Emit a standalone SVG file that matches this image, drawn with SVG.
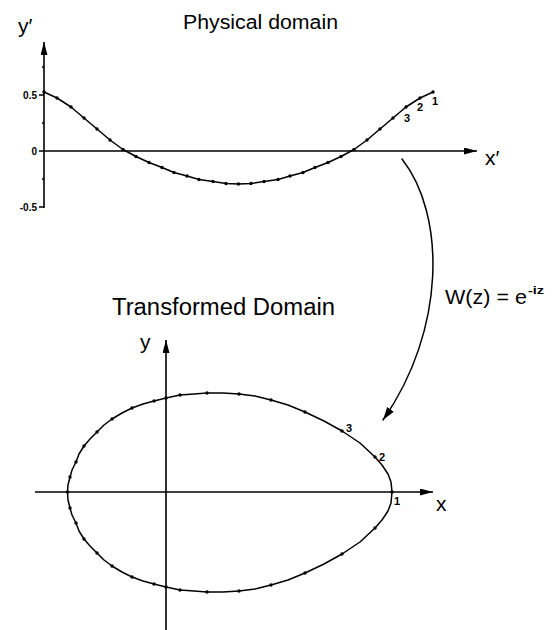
<svg xmlns="http://www.w3.org/2000/svg" width="552" height="630" viewBox="0 0 552 630">
<defs>
<style>
.ax{stroke:#000;stroke-width:1.6;fill:none}
.tk{stroke:#000;stroke-width:1.4;fill:none}
.cv{stroke:#000;stroke-width:1.5;fill:none;stroke-linejoin:round;stroke-linecap:round}
.dots{stroke:none;fill:none}
.t{font-family:"Liberation Sans",Arial,sans-serif;fill:#000}
.title{font-size:20px}
.num{font-size:10px;font-weight:bold}
.pt{font-size:11px;font-weight:bold}
.lab{font-size:21px}
</style>
<marker id="ah" markerUnits="userSpaceOnUse" markerWidth="14" markerHeight="8" refX="13" refY="3.5" orient="auto">
<path d="M0,0 L13,3.5 L0,7 Z" fill="#000"/>
</marker>
<marker id="ah2" markerUnits="userSpaceOnUse" markerWidth="14" markerHeight="10" refX="13" refY="4" orient="auto">
<path d="M0,0 L13,4 L0,8 Z" fill="#000"/>
</marker>
<marker id="dot" markerUnits="userSpaceOnUse" markerWidth="5" markerHeight="5" refX="2.5" refY="2.5">
<circle cx="2.5" cy="2.5" r="1.7" fill="#000"/>
</marker>
</defs>
<rect width="552" height="630" fill="#fff"/>

<g id="physical-domain">
<text class="t title" x="183" y="29" textLength="155" lengthAdjust="spacingAndGlyphs">Physical domain</text>
<line class="ax" x1="44" y1="208" x2="44" y2="42" marker-end="url(#ah)"/>
<line class="ax" x1="44" y1="151" x2="477" y2="151" marker-end="url(#ah)"/>
<path class="tk" d="M39,95 H44 M39,151 H44 M39,207 H44 M42,67 H44 M42,123 H44 M42,179 H44"/>
<text class="t num" x="37" y="99" text-anchor="end">0.5</text>
<text class="t num" x="37" y="155" text-anchor="end">0</text>
<text class="t num" x="37" y="211" text-anchor="end">-0.5</text>
<text class="t lab" x="18" y="33">y′</text>
<text class="t lab" x="485" y="165">x′</text>
<polyline class="cv" points="44,92 57,98 71,107 84,118 97,129 110,140 123,149.5 136,156.5 149,162.5 162,167.5 174,172.5 187,176 199,179.5 213,181.5 226,183.5 238.5,184 251,183.5 264,181.5 278,179.5 290,176 303,172.5 315,167.5 328,162.5 341,156.5 354,149.5 367,140 380,129 393,118 406,107 420,98 433,92"/>
<polyline class="dots" marker-start="url(#dot)" marker-mid="url(#dot)" marker-end="url(#dot)" points="44,92 57,98 71,107 84,118 97,129 110,140 123,149.5 136,156.5 149,162.5 162,167.5 174,172.5 187,176 199,179.5 213,181.5 226,183.5 238.5,184 251,183.5 264,181.5 278,179.5 290,176 303,172.5 315,167.5 328,162.5 341,156.5 354,149.5 367,140 380,129 393,118 406,107 420,98 433,92"/>
<text class="t pt" x="404" y="122">3</text>
<text class="t pt" x="417" y="111">2</text>
<text class="t pt" x="432" y="105">1</text>
</g>

<g id="connectors">
<path class="cv" d="M402,159 C446,215 446,330 383,420" marker-end="url(#ah2)"/>
</g>

<g id="mapping-label">
<text class="t lab" x="445" y="304" textLength="82" lengthAdjust="spacingAndGlyphs">W(z) = e</text>
<text class="t num" x="528" y="294" textLength="16" lengthAdjust="spacingAndGlyphs">-iz</text>
</g>

<g id="transformed-domain">
<text class="t title" x="112" y="315" font-size="23" style="font-size:23px" textLength="223" lengthAdjust="spacingAndGlyphs">Transformed Domain</text>
<line class="ax" x1="166" y1="630" x2="166" y2="340" marker-end="url(#ah)"/>
<line class="ax" x1="35" y1="492" x2="433" y2="492" marker-end="url(#ah)"/>
<text class="t lab" x="140" y="349">y</text>
<text class="t lab" x="436" y="511">x</text>
<polyline class="cv" points="392,492 391,482 388,474 382,465 375,457 360,443 342,431 324,421 305,412 288,405 271,400 255,396 239,394 223,393 207,393 194,394 180,395 166,398 154,401 143,404 132,408 122,413 112,419 104,425 97,432 90,439 84,446 79,454 76,462 72,470 70,477 68,485 67.5,492 68,500 70,508 72,515 76,523 79,531 84,539 90,546 97,553 104,560 112,566 122,572 132,577 143,581 154,584 166,587 180,590 194,591 207,592 223,592 239,591 255,589 271,585 288,580 305,573 324,564 342,554 360,542 375,528 382,520 388,511 391,503 392,492"/>
<polyline class="dots" marker-start="url(#dot)" marker-mid="url(#dot)" marker-end="url(#dot)" points="392,492 375,457 342,431 305,412 271,400 239,394 207,393 180,395 166,398 154,401 132,408 112,419 97,432 84,446 76,462 70,477 67.5,492 70,508 76,523 84,539 97,553 112,566 132,577 154,584 166,587 180,590 207,592 239,591 271,585 305,573 342,554 375,528"/>
<text class="t pt" x="346" y="432">3</text>
<text class="t pt" x="379" y="461">2</text>
<text class="t pt" x="394" y="505">1</text>
</g>
</svg>
